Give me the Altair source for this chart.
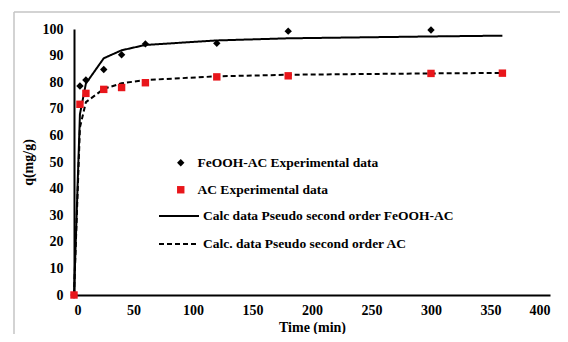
import altair as alt
import pandas as pd

t_exp_fe = [0, 5, 10, 25, 40, 60, 120, 180, 300]
q_exp_fe = [0, 78.6, 80.8, 84.8, 90.3, 94.4, 94.6, 99.2, 99.6]
t_exp_ac = [0, 5, 10, 25, 40, 60, 120, 180, 300, 360]
q_exp_ac = [0, 71.7, 75.8, 77.3, 78.0, 79.8, 82.0, 82.4, 83.3, 83.4]
t_calc = [0, 5, 10, 25, 40, 60, 120, 180, 300, 360]
q_calc_fe = [0, 68, 79.5, 89, 92, 94, 95.7, 96.5, 97.2, 97.5]
q_calc_ac = [0, 63, 72.5, 77.5, 79.6, 80.8, 82.2, 82.8, 83.3, 83.5]

S_FE = "FeOOH-AC  Experimental data"
S_AC = "AC Experimental data"
L_FE = "Calc data Pseudo second order FeOOH-AC"
L_AC = "Calc. data Pseudo second order AC"

pts = pd.DataFrame(
    [{"t": t, "q": q, "s": S_FE, "o": 0} for t, q in zip(t_exp_fe, q_exp_fe)]
    + [{"t": t, "q": q, "s": S_AC, "o": 1} for t, q in zip(t_exp_ac, q_exp_ac)]
)
lines = pd.DataFrame(
    [{"t": t, "q": q, "s": L_FE} for t, q in zip(t_calc, q_calc_fe)]
    + [{"t": t, "q": q, "s": L_AC} for t, q in zip(t_calc, q_calc_ac)]
)

FONT = "Liberation Serif"

x = alt.X("t:Q", scale=alt.Scale(domain=[0, 400], nice=False),
          axis=alt.Axis(values=list(range(0, 401, 50)), title="Time (min)",
                        titleY=39, titleBaseline="bottom"))
y = alt.Y("q:Q", scale=alt.Scale(domain=[0, 100], nice=False),
          axis=alt.Axis(values=list(range(0, 101, 10)), title="q(mg/g)"))

line_layer = alt.Chart(lines).mark_line(color="black", strokeWidth=2, clip=False).encode(
    x=x, y=y,
    detail="s:N",
    strokeDash=alt.StrokeDash(
        "s:N",
        scale=alt.Scale(domain=[L_FE, L_AC], range=[[1, 0], [5, 3]]),
        legend=alt.Legend(
            orient="none", legendX=84, legendY=166, title=None,
            symbolType="stroke", symbolSize=1600, symbolStrokeWidth=2,
            symbolStrokeColor="black", labelOffset=3, rowPadding=-12,
            labelFont=FONT, labelFontWeight="bold", labelFontSize=13.5,
            labelColor="black", labelLimit=400,
        ),
    ),
)

pt_legend = alt.Legend(
    orient="none", legendX=100, legendY=127, title=None,
    rowPadding=12, labelOffset=10,
    labelFont=FONT, labelFontWeight="bold", labelFontSize=13.5,
    labelColor="black", labelLimit=400, symbolSize=55,
    symbolStrokeWidth=0,
)

pt_layer = alt.Chart(pts).mark_point(filled=True, opacity=1, clip=False, size=55).encode(
    x=x, y=y,
    order="o:Q",
    color=alt.Color("s:N", scale=alt.Scale(domain=[S_FE, S_AC], range=["black", "#e8161b"]),
                    legend=pt_legend),
    shape=alt.Shape("s:N", scale=alt.Scale(domain=[S_FE, S_AC], range=["diamond", "square"]),
                    legend=pt_legend),
)

border_df = pd.DataFrame({"k": [0]})
border_left = alt.Chart(border_df).mark_rule(color="#c4c4c4", strokeWidth=1.5, clip=False).encode(
    x=alt.value(-60), y=alt.value(-17), y2=alt.value(400))
border_top = alt.Chart(border_df).mark_rule(color="#c4c4c4", strokeWidth=1.5, clip=False).encode(
    x=alt.value(-60), x2=alt.value(600), y=alt.value(-17))

chart = alt.layer(border_left, border_top, line_layer, pt_layer).properties(
    width=476, height=266,
    autosize=alt.AutoSizeParams(type="none"),
    padding={"left": 66, "top": 21, "right": 10, "bottom": 39},
).configure_view(stroke=None).configure_axis(
    domainColor="black", domainWidth=2, ticks=False, grid=False,
    labelFont=FONT, labelFontWeight="bold", labelFontSize=14, labelColor="black",
    titleFont=FONT, titleFontWeight="bold", titleFontSize=14, titleColor="black",
).configure_axisY(labelPadding=11, titlePadding=7).configure_axisX(labelPadding=8)

chart.save("out.html", embed_options={"renderer": "svg", "actions": False})
